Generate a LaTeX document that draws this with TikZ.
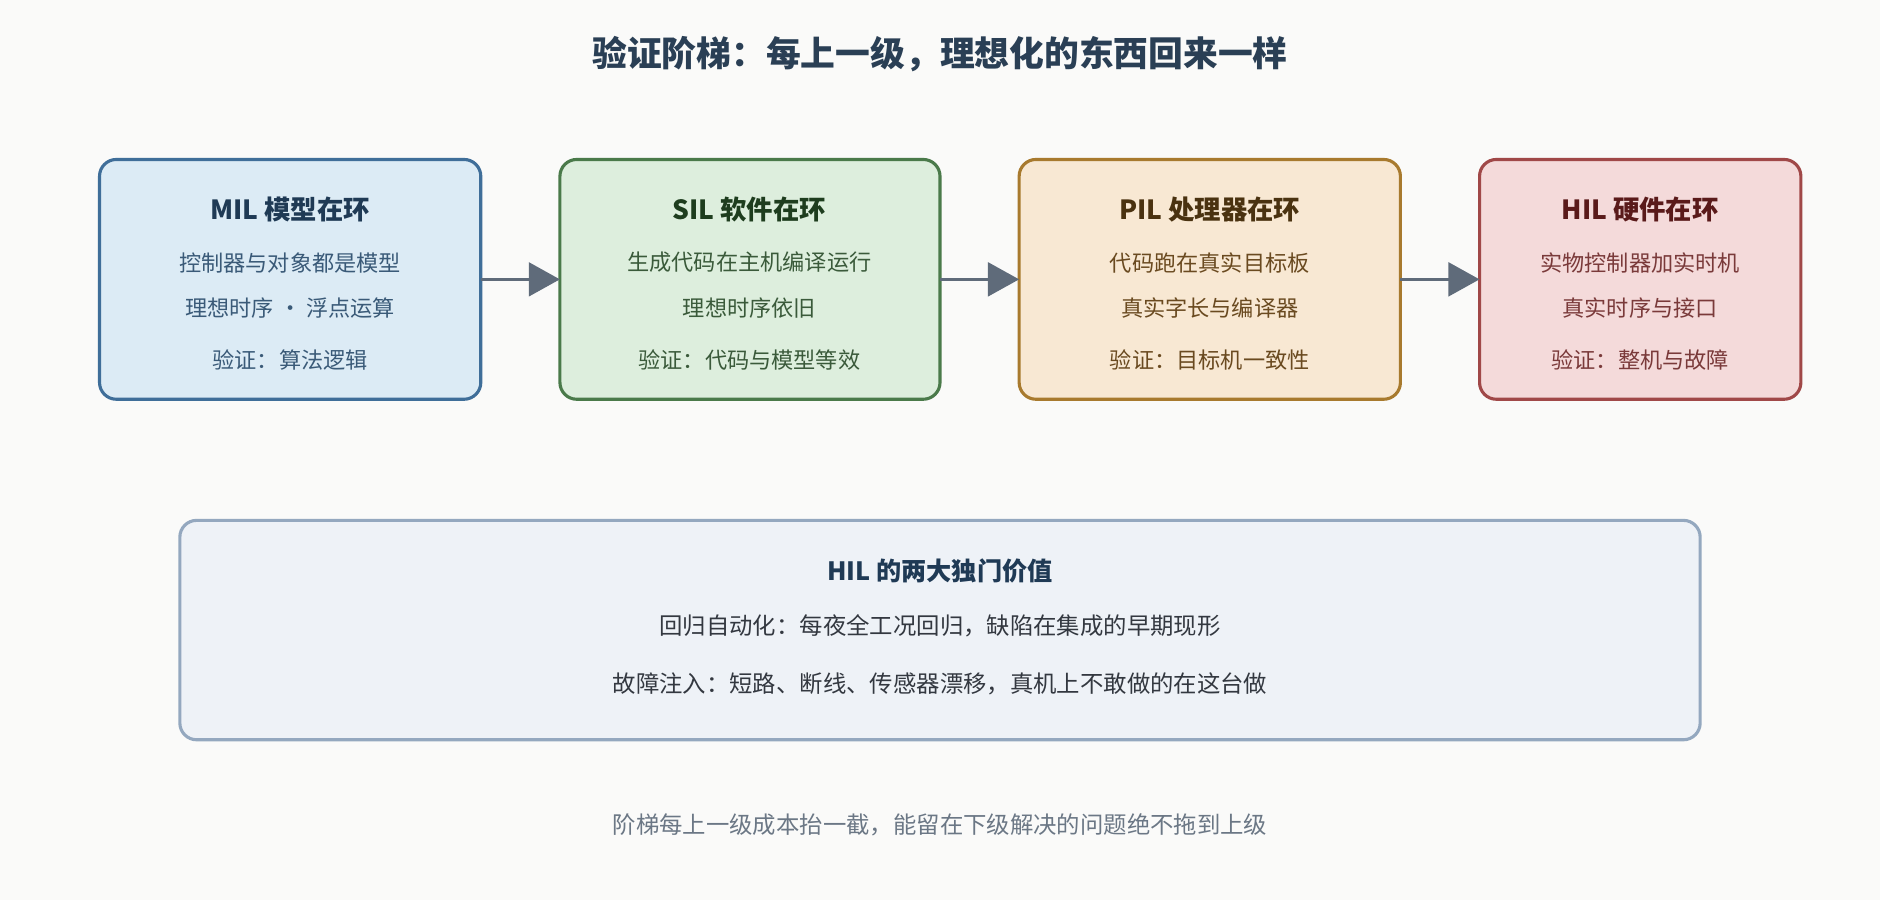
\documentclass[tikz,border=0pt]{standalone}
\usepackage{fontspec}
\setmainfont{Noto Sans CJK SC}
\usetikzlibrary{arrows.meta}
\definecolor{bg}{HTML}{FAFAF9}
\definecolor{ttl}{HTML}{2A3F55}
\definecolor{arr}{HTML}{5F6B7A}
\definecolor{mB}{HTML}{3F6E99}\definecolor{mF}{HTML}{DCEBF5}\definecolor{mT}{HTML}{1F3A55}\definecolor{mX}{HTML}{3A5A78}
\definecolor{sB}{HTML}{4A7A4A}\definecolor{sF}{HTML}{DDEEDD}\definecolor{sT}{HTML}{1E3D1E}\definecolor{sX}{HTML}{3A5A3A}
\definecolor{pB}{HTML}{A87A2E}\definecolor{pF}{HTML}{F8E8D3}\definecolor{pT}{HTML}{4A3210}\definecolor{pX}{HTML}{6A4A20}
\definecolor{hB}{HTML}{A04848}\definecolor{hF}{HTML}{F4DADA}\definecolor{hT}{HTML}{5A1A1A}\definecolor{hX}{HTML}{7A3A3A}
\definecolor{gB}{HTML}{94A8BF}\definecolor{gF}{HTML}{EEF2F7}\definecolor{gX}{HTML}{333840}\definecolor{ft}{HTML}{6B7785}
\begin{document}
\begin{tikzpicture}[x=1pt,y=-1pt,
  box/.style={line width=2.6pt,rounded corners=14pt},
  hd/.style={font=\fontsize{22}{26}\selectfont\bfseries},
  bd/.style={font=\fontsize{18.5}{22}\selectfont},
  con/.style={arr,line width=3pt,-{Triangle[length=26pt,width=28pt]}}]
\fill[bg] (0,0) rectangle (1568,751);
\useasboundingbox (0,0) rectangle (1568,751);
\node[text=ttl,font=\fontsize{29}{34}\selectfont\bfseries] (t) at (784,45) {验证阶梯：每上一级，理想化的东西回来一样};
% MIL
\draw[box,draw=mB,fill=mF] (83,133) rectangle (401,333);
\coordinate (m) at (401,233);
\node[hd,text=mT] (m1) at (242,175) {MIL 模型在环};
\node[bd,text=mX] (m2) at (242,219) {控制器与对象都是模型};
\node[bd,text=mX] (m3) at (242,257) {理想时序 · 浮点运算};
\node[bd,text=mX] (m4) at (242,300) {验证：算法逻辑};
% SIL
\draw[box,draw=sB,fill=sF] (467,133) rectangle (784,333);
\coordinate (sl) at (467,233);\coordinate (sr) at (784,233);
\node[hd,text=sT] (s1) at (625,175) {SIL 软件在环};
\node[bd,text=sX] (s2) at (625,219) {生成代码在主机编译运行};
\node[bd,text=sX] (s3) at (625,257) {理想时序依旧};
\node[bd,text=sX] (s4) at (625,300) {验证：代码与模型等效};
% PIL
\draw[box,draw=pB,fill=pF] (850,133) rectangle (1168,333);
\coordinate (pl) at (850,233);\coordinate (pr) at (1168,233);
\node[hd,text=pT] (p1) at (1009,175) {PIL 处理器在环};
\node[bd,text=pX] (p2) at (1009,219) {代码跑在真实目标板};
\node[bd,text=pX] (p3) at (1009,257) {真实字长与编译器};
\node[bd,text=pX] (p4) at (1009,300) {验证：目标机一致性};
% HIL
\draw[box,draw=hB,fill=hF] (1234,133) rectangle (1502,333);
\coordinate (hl) at (1234,233);
\node[hd,text=hT] (h1) at (1368,175) {HIL 硬件在环};
\node[bd,text=hX] (h2) at (1368,219) {实物控制器加实时机};
\node[bd,text=hX] (h3) at (1368,257) {真实时序与接口};
\node[bd,text=hX] (h4) at (1368,300) {验证：整机与故障};
\draw[con] (m) -- (sl);
\draw[con] (sr) -- (pl);
\draw[con] (pr) -- (hl);
% bottom
\draw[box,draw=gB,fill=gF] (150,434) rectangle (1418,617);
\node[hd,text=mT,font=\fontsize{21}{25}\selectfont\bfseries] (b1) at (784,476) {HIL 的两大独门价值};
\node[text=gX,font=\fontsize{19.5}{23}\selectfont] (b2) at (784,522) {回归自动化：每夜全工况回归，缺陷在集成的早期现形};
\node[text=gX,font=\fontsize{19.5}{23}\selectfont] (b3) at (784,570) {故障注入：短路、断线、传感器漂移，真机上不敢做的在这台做};
\node[text=ft,font=\fontsize{19.5}{23}\selectfont] (f) at (784,688) {阶梯每上一级成本抬一截，能留在下级解决的问题绝不拖到上级};
\end{tikzpicture}
\end{document}
